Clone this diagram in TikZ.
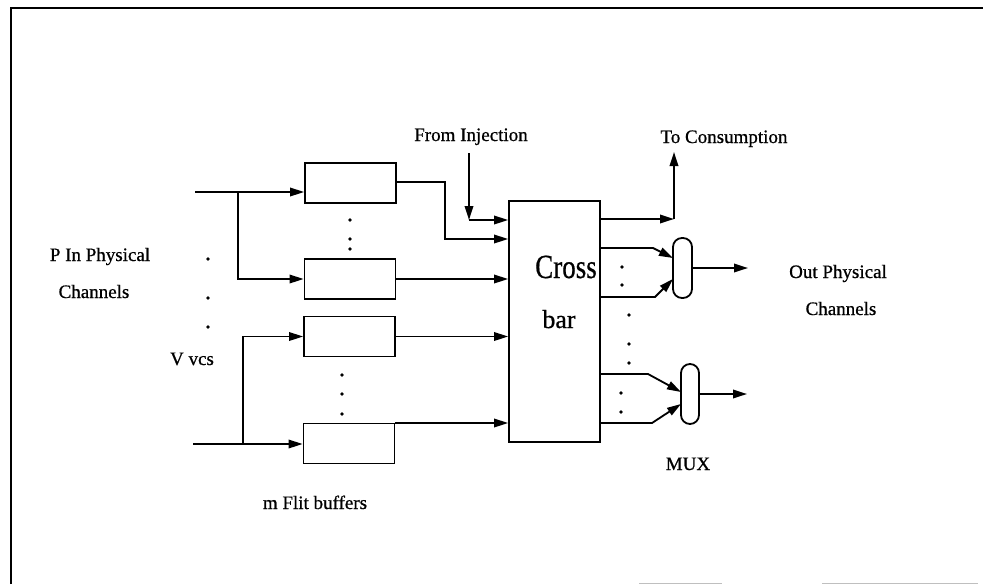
\documentclass[tikz,border=0pt]{standalone}
\usepackage{fontspec}
\setmainfont{Liberation Serif}[FakeBold=0.7]
\usetikzlibrary{arrows.meta}
\begin{document}
\begin{tikzpicture}[x=1pt,y=-1pt,
  line width=1.8pt,
  arr/.style={-{Triangle[length=14pt,width=8.5pt]}},
  buf/.style={draw,rectangle,minimum width=91pt,minimum height=40pt,inner sep=0pt},
  mux/.style={draw,rectangle,rounded corners=9pt,minimum width=19pt,minimum height=60pt,inner sep=0pt},
  lbl/.style={font=\fontsize{19}{21}\selectfont,anchor=base,inner sep=0pt},
  dot/.style={circle,fill,inner sep=0pt,minimum size=3.8pt}]
\useasboundingbox (0,0) rectangle (983,584);
\fill[white] (0,0) rectangle (983,584);
% frame
\coordinate (fbl) at (11,584);
\coordinate (ftl) at (11,8);
\coordinate (ftr) at (983,8);
\draw[line width=2pt] (fbl) -- (ftl) -- (ftr);
\draw[gray!50,line width=1pt] (639,583) -- (722,583) (822,583) -- (978,583);
% buffers
\node[buf] (b1) at (350.5,183) {};
\node[buf] (b2) at (350,279) {};
\node[buf] (b3) at (349.5,336.5) {};
\node[buf] (b4) at (349,443.5) {};
% crossbar
\node[draw,rectangle,minimum width=91pt,minimum height=241pt,inner sep=0pt] (cb) at (554.5,321.5) {};
\node[anchor=base,inner sep=0pt,font=\fontsize{27}{29}\selectfont] (cross) at (566,278) {\scalebox{1}[1.25]{Cross}};
\node[anchor=base,inner sep=0pt,font=\fontsize{26}{28}\selectfont] (bar) at (559,328) {bar};
% mux
\node[mux] (m1) at (682.5,268) {};
\node[mux,minimum width=18pt] (m2) at (690,394) {};
% labels
\node[lbl] (tinj) at (471,141) {From Injection};
\node[lbl] (tcons) at (724,143) {To Consumption};
\node[lbl] (tpin) at (100,261) {P In Physical};
\node[lbl] (tch1) at (94,298) {Channels};
\node[lbl] (tv) at (192,365) {V vcs};
\node[lbl] (tout) at (838,278) {Out Physical};
\node[lbl] (tch2) at (841,315) {Channels};
\node[lbl] (tmux) at (688,470) {MUX};
\node[lbl] (tflit) at (315,509) {m Flit buffers};
% input connectors
\coordinate (in1) at (195,192);
\coordinate (br1) at (238,192);
\draw[arr] (in1) -- (in1 -| b1.west);
\draw[arr] (br1) |- (b2.west);
\coordinate (in2) at (193,444);
\coordinate (br2) at (243,444);
\draw[arr] (in2) -- (in2 -| b4.west);
\draw[arr] (br2) |- (b3.west);
% buffer outputs to crossbar
\coordinate (k1) at (445,182);
\coordinate (k1b) at (445,239);
\draw[arr] (b1.east |- k1) -- (k1) -- (k1b) -- (k1b -| cb.west);
\draw[arr] (b2.east) -- (b2.east -| cb.west);
\draw[arr] (b3.east) -- (b3.east -| cb.west);
\coordinate (k4) at (395,423);
\draw[arr] (k4) -- (k4 -| cb.west);
% injection
\coordinate (injtop) at (469,153);
\coordinate (injc) at (469,220);
\draw[arr] (injtop) -- (injc);
\draw[arr] (injc) -- (injc -| cb.west);
% consumption
\coordinate (consc) at (674,219);
\coordinate (constop) at (674,152);
\draw[arr] (consc -| cb.east) -- (consc);
\draw[arr] (consc) -- (constop);
% mux1 inputs
\coordinate (a1) at (653,248);
\coordinate (a2) at (655,297);
\coordinate (t1) at (673,258);
\coordinate (t2) at (673,279);
\draw[arr] (a1 -| cb.east) -- (a1) -- (t1);
\draw[arr] (a2 -| cb.east) -- (a2) -- (t2);
\coordinate (o1) at (748,268);
\draw[arr] (m1.east) -- (o1);
% mux2 inputs
\coordinate (c1) at (648,374);
\coordinate (c2) at (652,423);
\coordinate (u1) at (681,392);
\coordinate (u2) at (681,404);
\draw[arr] (c1 -| cb.east) -- (c1) -- (u1);
\draw[arr] (c2 -| cb.east) -- (c2) -- (u2);
\coordinate (o2) at (747,394);
\draw[arr] (m2.east) -- (o2);
% dots
\foreach \n/\x/\y in {d1/350/220, d2/350/239, d3/350/249,
  d4/342/375, d5/342/394, d6/342/414,
  d7/208/259, d8/208/298, d9/208/327,
  d10/622/267, d11/622/285,
  d12/629/315, d13/629/344, d14/629/363,
  d15/621/393, d16/621/412}
  \node[dot] (\n) at (\x,\y) {};
\end{tikzpicture}
\end{document}
